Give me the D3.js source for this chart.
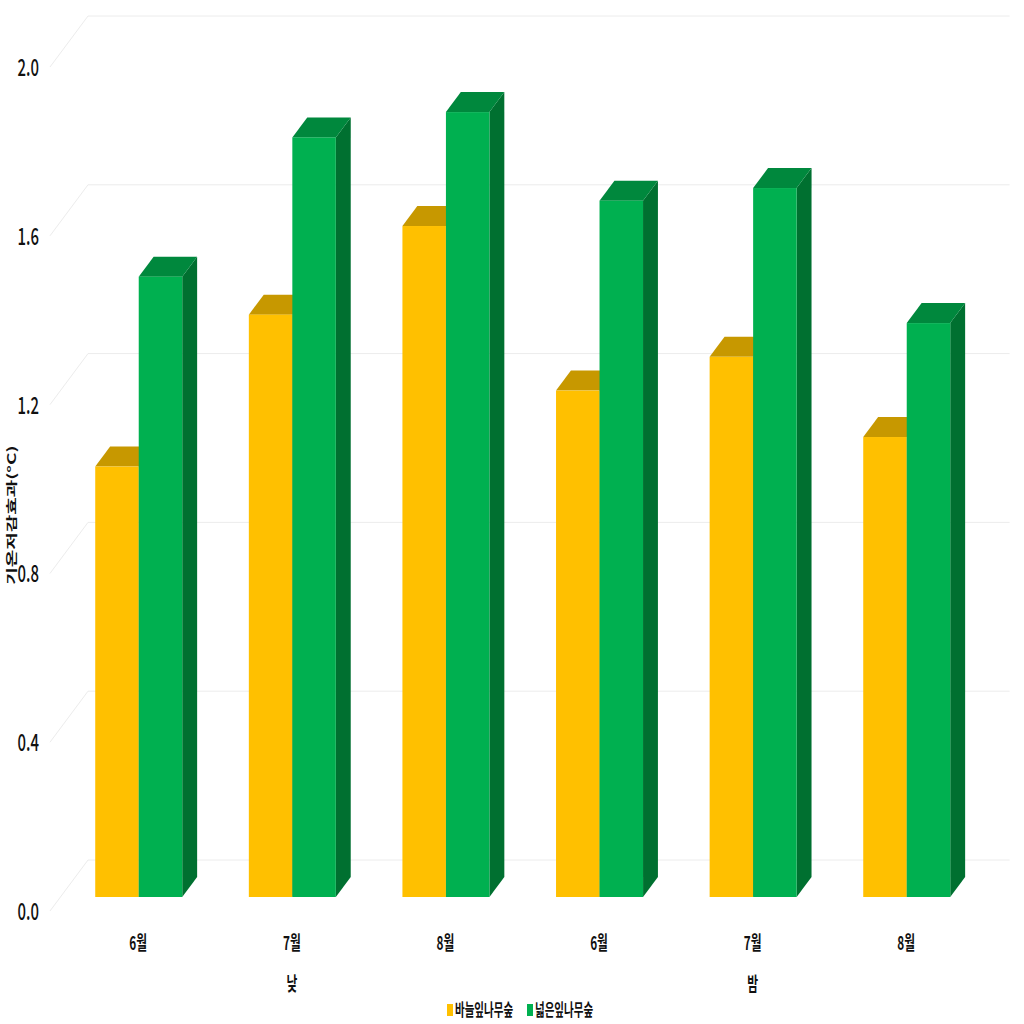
<!DOCTYPE html>
<html><head><meta charset="utf-8">
<script src="https://cdn.jsdelivr.net/npm/d3@7"></script>
<style>
html,body{margin:0;padding:0;background:#fff;}
text{font-family:"Noto Sans CJK KR","Noto Sans",sans-serif;fill:#111;}
</style></head>
<body><svg id="c" width="1024" height="1024"></svg>
<script>
const categories = ["6월","7월","8월","6월","7월","8월"];
const groups = ["낮","밤"];
const groupSpan = [[0,2],[3,5]];
const seriesNames = ["바늘잎나무숲","넓은잎나무숲"];
const needleleaf = [1.02,1.38,1.59,1.20,1.28,1.09];
const broadleaf = [1.47,1.80,1.86,1.65,1.68,1.36];
const yTicks = [0,0.4,0.8,1.2,1.6,2.0];
const yTickLabels = ["0.0","0.4","0.8","1.2","1.6","2.0"];
const colors = {
  front:["#FFC000","#00B050"],
  top:["#C79800","#00883D"],
  side:["#A57E00","#007030"]
};

const svg = d3.select("#c");
const SX = 0.62;
const DX = 38, DY = -51;           // full depth offset
const dF = 14/51, dB = 34/51;      // bar front/back depth fractions

const y = d3.scaleLinear().domain([0,2]).range([911,67]);
const x = d3.scaleBand().domain(d3.range(categories.length)).range([50,971.6]);
const barW = 43.5;
const xs = d3.scaleBand().domain([0,1]).range([x.bandwidth()/2+1.5-barW, x.bandwidth()/2+1.5+barW]);

// back wall gridlines + diagonals
const g = svg.append("g");
yTicks.forEach(t=>{
  g.append("line").attr("x1",x.range()[0]+DX).attr("x2",x.range()[1]+DX)
    .attr("y1",y(t)+DY).attr("y2",y(t)+DY).attr("stroke","#ececec").attr("stroke-width",1);
  g.append("line").attr("x1",x.range()[0]).attr("x2",x.range()[0]+DX)
    .attr("y1",y(t)).attr("y2",y(t)+DY).attr("stroke","#ececec").attr("stroke-width",1);
});

// y tick labels
yTicks.forEach((t,i)=>{
  svg.append("text").attr("transform",`translate(39,${y(t)+9}) scale(${SX},1)`)
    .attr("text-anchor","end").attr("font-size",24).attr("font-weight",500).text(yTickLabels[i]);
});

// axis title
svg.append("text").attr("transform",`translate(16,515) rotate(-90) scale(1,${SX})`)
  .attr("text-anchor","middle").attr("font-size",19).attr("font-weight",700).text("기온저감효과(°C)");

// bars
const series = [needleleaf, broadleaf];
const ddx = (dB-dF)*DX, ddy = (dB-dF)*DY;
categories.forEach((c,i)=>{
  series.forEach((vals,s)=>{
    const v = vals[i];
    const x0 = x(i)+xs(s)+dF*DX, x1 = x0+xs.bandwidth();
    const yt = y(v)+dF*DY, yb = y(0)+dF*DY;
    const bg = svg.append("g");
    bg.append("polygon").attr("points",[[x1,yt],[x1+ddx,yt+ddy],[x1+ddx,yb+ddy],[x1,yb]].map(p=>p.join(",")).join(" "))
      .attr("fill",colors.side[s]);
    bg.append("polygon").attr("points",[[x0,yt],[x1,yt],[x1+ddx,yt+ddy],[x0+ddx,yt+ddy]].map(p=>p.join(",")).join(" "))
      .attr("fill",colors.top[s]);
    bg.append("rect").attr("x",x0).attr("y",yt).attr("width",x1-x0).attr("height",yb-yt)
      .attr("fill",colors.front[s]);
  });
});

// category labels
const cx = i => x(i)+x.bandwidth()/2+1+dF*DX;
categories.forEach((c,i)=>{
  svg.append("text").attr("transform",`translate(${cx(i)},950) scale(${SX},1)`)
    .attr("text-anchor","middle").attr("font-size",19).attr("font-weight",700).text(c);
});
groups.forEach((gname,k)=>{
  const m = (cx(groupSpan[k][0])+cx(groupSpan[k][1]))/2;
  svg.append("text").attr("transform",`translate(${m},991) scale(${SX},1)`)
    .attr("text-anchor","middle").attr("font-size",19).attr("font-weight",700).text(gname);
});

// legend
const legX = [447, 527];
seriesNames.forEach((n,s)=>{
  svg.append("rect").attr("x",legX[s]).attr("y",1004).attr("width",6).attr("height",12).attr("fill",colors.front[s]);
  svg.append("text").attr("transform",`translate(${legX[s]+8},1016) scale(${SX},1)`)
    .attr("font-size",17).attr("font-weight",700).text(n);
});
</script></body></html>
